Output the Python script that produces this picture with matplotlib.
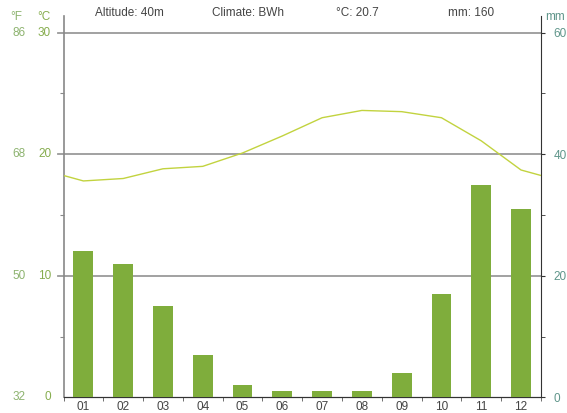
import matplotlib
matplotlib.use('Agg')
import matplotlib.pyplot as plt
import numpy as np

plt.rcParams['font.family'] = ['Liberation Sans', 'DejaVu Sans']

months = ['01', '02', '03', '04', '05', '06', '07', '08', '09', '10', '11', '12']
temp_c = [17.8, 18.0, 18.8, 19.0, 20.1, 21.5, 23.0, 23.6, 23.5, 23.0, 21.1, 18.7]
precip_mm = [24, 22, 15, 7, 2, 1, 1, 1, 4, 17, 35, 31]
altitude = 40
climate = 'BWh'

c_ticks = [0, 10, 20, 30]
f_labels = ['32', '50', '68', '86']
mm_ticks = [0, 20, 40, 60]

bar_color = '#7fad3c'
line_color = '#c2d33f'
f_color = '#8db36f'
c_color = '#86ad4e'
mm_color = '#5f958a'

# axes run a bit above 30 °C so the spines stick out over the top gridline
ytop = 31.36

fig = plt.figure(figsize=(5.67, 4.13), dpi=100)
ax = fig.add_axes([0.112, 0.038, 0.842, 0.923])
ax2 = ax.twinx()

x = np.arange(1, 13)

# precipitation bars on the mm axis
ax2.bar(x, precip_mm, width=0.5, color=bar_color, zorder=3)
ax2.set_ylim(0, ytop * 2)

# temperature line, running out to both edges
edge = (temp_c[0] + temp_c[-1]) / 2
tx = np.concatenate([[0.5], x, [12.5]])
ty = np.concatenate([[edge], temp_c, [edge]])
ax2.plot(tx, np.array(ty) * 2, color=line_color, lw=1.0, zorder=4)

ax.set_xlim(0.5, 12.5)
ax.set_ylim(0, ytop)

for v in [10, 20, 30]:
    ax.axhline(v, xmin=-0.012, xmax=1.0, color='#9a9a9a', lw=1.3, zorder=1, clip_on=False)

# x axis
ax.set_xticks(x)
ax.set_xticklabels(months, fontsize=8.5, color='#444444')
ax.tick_params(axis='x', length=0, pad=3)
ax.set_xticks(np.arange(0.5, 13, 1), minor=True)
ax.tick_params(axis='x', which='minor', length=3, color='#555555', direction='out')

# left axis: temperatures drawn as text columns
ax.set_yticks([5, 15, 25])
ax.set_yticklabels([])
ax.tick_params(axis='y', length=3, color='#888888', direction='out')
for c, f in zip(c_ticks, f_labels):
    ax.text(-0.026, c, str(c), transform=ax.get_yaxis_transform(), ha='right', va='center',
            fontsize=8.5, color=c_color)
    ax.text(-0.08, c, f, transform=ax.get_yaxis_transform(), ha='right', va='center',
            fontsize=8.5, color=f_color)
hy = 1 - 17 / 413
fig.text(44 / 567, hy, '°C', ha='center', va='center', fontsize=8.5, color=c_color)
fig.text(16 / 567, hy, '°F', ha='center', va='center', fontsize=8.5, color=f_color)

# right axis: mm
ax2.set_yticks(mm_ticks)
ax2.set_yticklabels([str(m) for m in mm_ticks], fontsize=8.5, color=mm_color)
ax2.set_yticks([10, 30, 50], minor=True)
ax2.tick_params(axis='y', which='both', length=3, color='#333333', direction='out', pad=6)
fig.text(555 / 567, hy, 'mm', ha='center', va='center', fontsize=8.5, color=mm_color)

for a in (ax, ax2):
    a.spines['top'].set_visible(False)
ax.spines['left'].set_color('#888888')
ax.spines['left'].set_linewidth(1.2)
ax2.spines['left'].set_visible(False)
ax2.spines['right'].set_color('#333333')
ax2.spines['bottom'].set_color('#333333')
ax.spines['bottom'].set_color('#333333')
ax.spines['right'].set_visible(False)

# header
mean_t = np.mean(temp_c)
total = sum(precip_mm)
ty_h = 1 - 13 / 413
fig.text(95 / 567, ty_h, 'Altitude: %dm' % altitude, fontsize=8.5, color='#444444', va='center')
fig.text(212 / 567, ty_h, 'Climate: %s' % climate, fontsize=8.5, color='#444444', va='center')
fig.text(336 / 567, ty_h, '°C: %.1f' % mean_t, fontsize=8.5, color='#444444', va='center')
fig.text(448 / 567, ty_h, 'mm: %d' % total, fontsize=8.5, color='#444444', va='center')

fig.savefig('out.png', dpi=100)
